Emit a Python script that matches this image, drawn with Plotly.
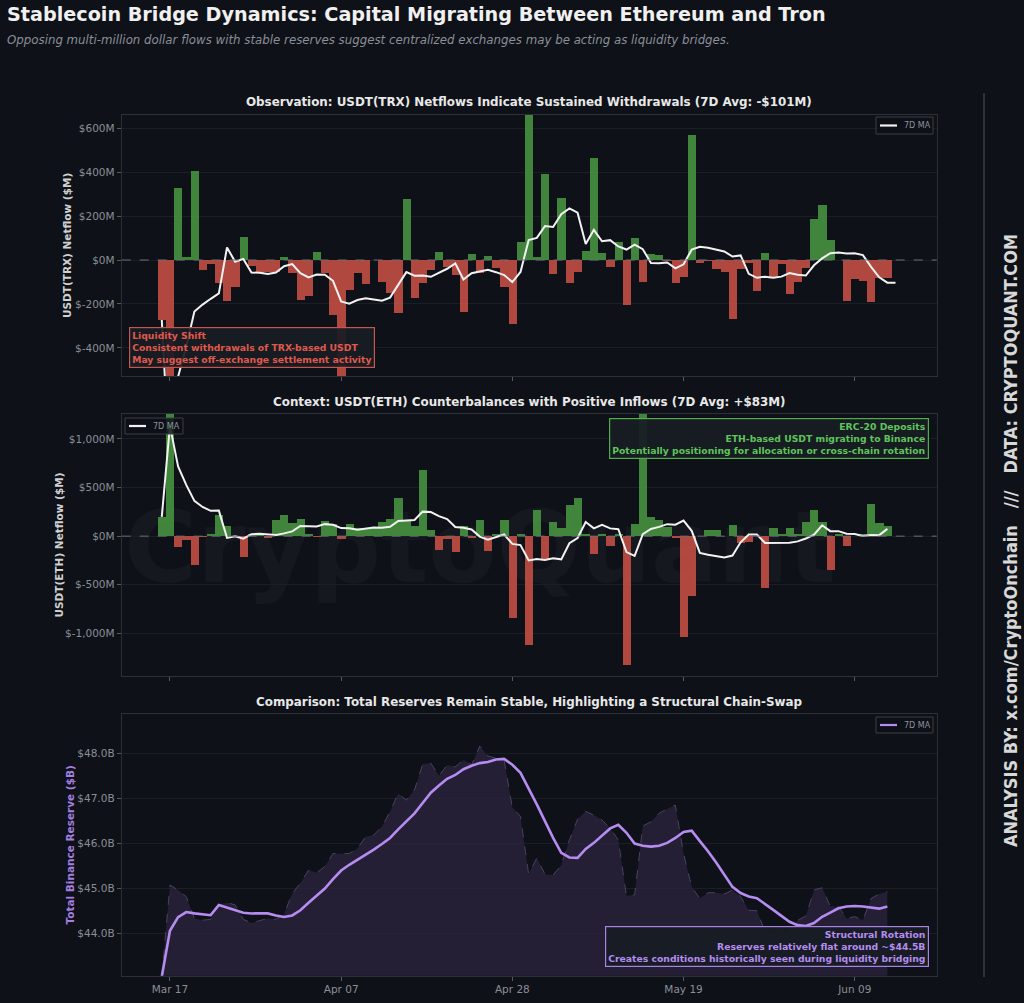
import pandas as pd
import plotly.graph_objects as go

# ---------------- data ----------------
start_date = "2025-03-16"
ma_window = 7

trx_netflow = [
    -273, -1650, 330, 15, 405, -45, -18, -103, -185, -125,
    106, -27, -58, -55, -53, 15, -60, -180, -163, 35,
    -60, -250, -640, -137, -60, -110, 0, -100, -152, -240,
    276, -172, -103, -45, 35, -30, -68, -238, 27, -58,
    17, -38, -122, -290, 83, 1040, 15, 392, -64, 284,
    -106, -53, 41, 466, 30, -30, 84, -205, 102, -102,
    26, 23, -5, -106, -76, 570, -12, -6, -43, -53,
    -270, -41, -15, -140, 30, -76, -18, -155, -99, -38,
    187, 250, 91, 0, -187, -88, -96, -190, -80, -80,
    0,
]

eth_netflow = [
    199, 2070, -116, -41, -298, -10, 20, 216, 103, -5,
    -212, 27, 27, -17, 164, 216, 137, 175, 27, -7,
    154, 120, -27, 120, 79, 79, 96, 147, 181, 397,
    164, 103, 678, 62, -144, -34, -168, 103, -17, 164,
    -154, 20, 171, -846, 20, -1120, 270, -230, 147, 89,
    318, 394, 27, -185, 20, -103, 27, -1329, 120, 1588,
    199, 164, 96, -14, -1034, -616, 0, 68, 68, 0,
    113, -75, -58, 0, -538, 79, 27, 86, 27, 147,
    274, 147, -349, 27, -99, 0, 20, 336, 137, 103,
]

reserve_b = [
    43.05, 45.08, 44.97, 44.82, 44.34, 44.30, 44.32, 44.64, 44.69, 44.64,
    44.32, 44.24, 44.29, 44.34, 44.32, 44.44, 44.89, 45.12, 45.41, 45.35,
    45.49, 45.78, 45.77, 45.78, 45.89, 46.15, 46.19, 46.37, 46.71, 47.11,
    46.96, 47.19, 47.76, 47.78, 47.50, 47.74, 47.70, 47.85, 47.74, 48.16,
    47.94, 47.89, 47.84, 46.80, 46.60, 45.33, 45.68, 45.32, 45.30, 45.52,
    46.08, 46.54, 46.71, 46.63, 46.52, 46.34, 46.08, 44.84, 44.86, 46.39,
    46.48, 46.67, 46.77, 46.85, 45.78, 45.04, 44.78, 44.91, 44.91, 44.88,
    44.97, 44.82, 44.52, 44.51, 44.05, 43.95, 43.95, 44.05, 44.30, 44.39,
    44.97, 45.02, 44.61, 44.60, 44.34, 44.38, 44.30, 44.78, 44.88, 44.93,
]

x_tick_dates = ["2025-03-17", "2025-04-07", "2025-04-28", "2025-05-19", "2025-06-09"]
x_tick_labels = ["Mar 17", "Apr 07", "Apr 28", "May 19", "Jun 09"]
x_range = ["2025-03-11 02:00", "2025-06-19 01:15"]

trx_ticks = [-400, -200, 0, 200, 400, 600]
trx_tick_labels = ["$-400M", "$-200M", "$0M", "$200M", "$400M", "$600M"]
trx_range = [-528, 660]

eth_ticks = [-1000, -500, 0, 500, 1000]
eth_tick_labels = ["$-1,000M", "$-500M", "$0M", "$500M", "$1,000M"]
eth_range = [-1436, 1257]

res_ticks = [44, 45, 46, 47, 48]
res_tick_labels = ["$44.0B", "$45.0B", "$46.0B", "$47.0B", "$48.0B"]
res_range = [43.07, 48.87]

# ---------------- derived ----------------
trx_dates = pd.date_range(start_date, periods=len(trx_netflow), freq="D")
eth_dates = pd.date_range(start_date, periods=len(eth_netflow), freq="D")
res_dates = pd.date_range(start_date, periods=len(reserve_b), freq="D")

trx_ma = pd.Series(trx_netflow).rolling(ma_window, min_periods=1).mean()
eth_ma = pd.Series(eth_netflow).rolling(ma_window, min_periods=1).mean()
res_ma = pd.Series(reserve_b).rolling(ma_window, min_periods=1).mean()

# ---------------- style ----------------
BG = "#0e1117"
GREEN = "rgba(68,140,62,0.95)"
RED = "rgba(186,76,66,0.95)"
SPINE = "#2c3138"
GRID = "#1a1e25"
TICKC = "#8a8f97"
FONT = "DejaVu Sans"
PURPLE = "#b68cf0"
W, H = 1024, 1003


def px_x(p):
    return p / W


def px_y(p):
    return 1 - p / H


DAY_MS = 86400000

fig = go.Figure()


def bar_colors(vals):
    return [GREEN if v >= 0 else RED for v in vals]


# Panel 1
fig.add_trace(go.Bar(x=trx_dates, y=trx_netflow, width=DAY_MS,
                     marker=dict(color=bar_colors(trx_netflow), line=dict(width=0)),
                     showlegend=False, xaxis="x", yaxis="y"))
fig.add_trace(go.Scatter(x=trx_dates, y=trx_ma, mode="lines", name="7D MA",
                         line=dict(color="#f2f2f2", width=2), showlegend=False,
                         xaxis="x", yaxis="y"))
# Panel 2
fig.add_trace(go.Bar(x=eth_dates, y=eth_netflow, width=DAY_MS,
                     marker=dict(color=bar_colors(eth_netflow), line=dict(width=0)),
                     showlegend=False, xaxis="x2", yaxis="y2"))
fig.add_trace(go.Scatter(x=eth_dates, y=eth_ma, mode="lines", name="7D MA",
                         line=dict(color="#f2f2f2", width=2), showlegend=False,
                         xaxis="x2", yaxis="y2"))
# Panel 3
fig.add_trace(go.Scatter(x=res_dates, y=reserve_b, mode="lines", fill="tozeroy",
                         fillcolor="rgba(44,36,64,0.75)",
                         line=dict(color="rgba(110,100,140,0.7)", width=0.8, dash="dash"),
                         showlegend=False, xaxis="x3", yaxis="y3"))
fig.add_trace(go.Scatter(x=res_dates, y=res_ma, mode="lines", name="7D MA",
                         line=dict(color=PURPLE, width=2.6), showlegend=False,
                         xaxis="x3", yaxis="y3"))

xdom = [px_x(121.7), px_x(936.7)]
panels = [(115, 376), (414, 675.7), (714, 975.7)]

axis_common = dict(showline=True, mirror=True, linecolor=SPINE, linewidth=1,
                   ticks="outside", ticklen=4, tickcolor="#555a62",
                   tickfont=dict(family=FONT, size=10.5, color=TICKC),
                   zeroline=False)

layout = dict(
    width=W, height=H,
    paper_bgcolor=BG, plot_bgcolor=BG,
    margin=dict(l=0, r=0, t=0, b=0),
    bargap=0, barmode="overlay",
    showlegend=False,
    font=dict(family=FONT, color=TICKC),
)
for i, (top, bot) in enumerate(panels, start=1):
    sfx = "" if i == 1 else str(i)
    layout["xaxis" + sfx] = dict(
        axis_common, type="date", domain=xdom, range=x_range,
        anchor="y" + sfx, tickmode="array", tickvals=x_tick_dates,
        ticktext=x_tick_labels, showticklabels=(i == 3), showgrid=False,
    )
    layout["yaxis" + sfx] = dict(axis_common, domain=[px_y(bot), px_y(top)],
                                 anchor="x" + sfx, showgrid=True, gridcolor=GRID,
                                 gridwidth=1, tickmode="array")
layout["yaxis"].update(range=trx_range, tickvals=trx_ticks, ticktext=trx_tick_labels)
layout["yaxis2"].update(range=eth_range, tickvals=eth_ticks, ticktext=eth_tick_labels)
layout["yaxis3"].update(range=res_range, tickvals=res_ticks, ticktext=res_tick_labels)

fig.update_layout(**layout)

# watermark in panel 2 (below traces)
fig.add_shape(type="rect", xref="paper", yref="paper",
              x0=px_x(120), x1=px_x(840), y0=px_y(600), y1=px_y(480),
              line=dict(width=0), fillcolor="rgba(0,0,0,0)", layer="below",
              label=dict(text="<b>CryptoQuant</b>", textposition="middle center",
                         font=dict(family=FONT, size=99, color="rgba(255,255,255,0.033)")))

# zero lines
for sfx in ["", "2"]:
    fig.add_shape(type="line", xref=("x" + sfx) + " domain", yref="y" + sfx,
                  x0=0, x1=1, y0=0, y1=0,
                  line=dict(color="#6a6f77", width=1, dash="dash"))

# right separator
fig.add_shape(type="line", xref="paper", yref="paper",
              x0=px_x(984), x1=px_x(984), y0=px_y(93), y1=px_y(977),
              line=dict(color="#3a3f47", width=1.5))

ann = []

# compact legends (box, line sample, label)
legend_boxes = [
    (876, 933, 117, 134, "#f2f2f2"),
    (125, 183, 418, 434, "#f2f2f2"),
    (876, 933, 717, 733, PURPLE),
]
for x0, x1, y0, y1, col in legend_boxes:
    fig.add_shape(type="rect", xref="paper", yref="paper",
                  x0=px_x(x0), x1=px_x(x1), y0=px_y(y1), y1=px_y(y0),
                  line=dict(color="#3a3f47", width=1), fillcolor="rgba(14,17,23,0.85)")
    ym = (y0 + y1) / 2
    fig.add_shape(type="line", xref="paper", yref="paper",
                  x0=px_x(x0 + 4), x1=px_x(x0 + 21), y0=px_y(ym), y1=px_y(ym),
                  line=dict(color=col, width=2.2))
    ann.append(dict(text="7D MA", x=px_x(x0 + 25.5), y=px_y(ym + 0.5), xanchor="left",
                    yanchor="middle", font=dict(family=FONT, size=8, color="#8f949c")))

# main title & subtitle
ann.append(dict(text="<b>Stablecoin Bridge Dynamics: Capital Migrating Between Ethereum and Tron</b>",
                x=px_x(5), y=px_y(14.5), xanchor="left", yanchor="middle",
                font=dict(family=FONT, size=19.2, color="#f0f0f0")))
ann.append(dict(text="<i>Opposing multi-million dollar flows with stable reserves suggest centralized exchanges may be acting as liquidity bridges.</i>",
                x=px_x(5), y=px_y(40), xanchor="left", yanchor="middle",
                font=dict(family=FONT, size=11.8, color="#8a8f98")))
# panel titles
titles = [
    ("Observation: USDT(TRX) Netflows Indicate Sustained Withdrawals (7D Avg: -$101M)", 102),
    ("Context: USDT(ETH) Counterbalances with Positive Inflows (7D Avg: +$83M)", 402),
    ("Comparison: Total Reserves Remain Stable, Highlighting a Structural Chain-Swap", 702),
]
for t, yy in titles:
    ann.append(dict(text="<b>" + t + "</b>", x=px_x(529.2), y=px_y(yy),
                    xanchor="center", yanchor="middle",
                    font=dict(family=FONT, size=11.9, color="#e8e8e8")))
# y axis titles
ytitles = [
    ("USDT(TRX) Netflow ($M)", 66.5, 245.5, "#d0d0d0"),
    ("USDT(ETH) Netflow ($M)", 58.5, 545, "#d0d0d0"),
    ("Total Binance Reserve ($B)", 69.5, 845, "#a47fe0"),
]
for t, xx, yy, c in ytitles:
    ann.append(dict(text="<b>" + t + "</b>", x=px_x(xx), y=px_y(yy), textangle=-90,
                    xanchor="center", yanchor="middle",
                    font=dict(family=FONT, size=10.5, color=c)))
# callout boxes
ann.append(dict(text="<b>Liquidity Shift<br>Consistent withdrawals of TRX-based USDT<br>May suggest off-exchange settlement activity</b>",
                x=px_x(129), y=px_y(367.5), xanchor="left", yanchor="bottom", align="left",
                font=dict(family=FONT, size=9.25, color="#e0594d"),
                bgcolor="rgba(24,28,36,0.92)", bordercolor="#c4564c", borderwidth=1.2, borderpad=2))
ann.append(dict(text="<b>ERC-20 Deposits<br>ETH-based USDT migrating to Binance<br>Potentially positioning for allocation or cross-chain rotation</b>",
                x=px_x(929), y=px_y(418), xanchor="right", yanchor="top", align="right",
                font=dict(family=FONT, size=9.25, color="#5fc45a"),
                bgcolor="rgba(24,28,36,0.92)", bordercolor="#4fae4a", borderwidth=1.2, borderpad=2))
ann.append(dict(text="<b>Structural Rotation<br>Reserves relatively flat around ~$44.5B<br>Creates conditions historically seen during liquidity bridging</b>",
                x=px_x(929), y=px_y(967), xanchor="right", yanchor="bottom", align="right",
                font=dict(family=FONT, size=9.25, color="#b68cf0"),
                bgcolor="rgba(24,28,36,0.92)", bordercolor="#a883e6", borderwidth=1.2, borderpad=2))
# right credit text
ann.append(dict(text="<b>ANALYSIS BY: x.com/CryptoOnchain   ///   DATA: CRYPTOQUANT.COM</b>",
                x=px_x(1010), y=px_y(541), textangle=-90, xanchor="center", yanchor="middle",
                font=dict(family="DejaVu Sans Condensed, Liberation Sans Narrow, DejaVu Sans",
                          size=18, color="#d8d8d8")))

for a in ann:
    a.setdefault("xref", "paper")
    a.setdefault("yref", "paper")
    a.setdefault("showarrow", False)
    fig.add_annotation(**a)

fig.write_html("out.html")
